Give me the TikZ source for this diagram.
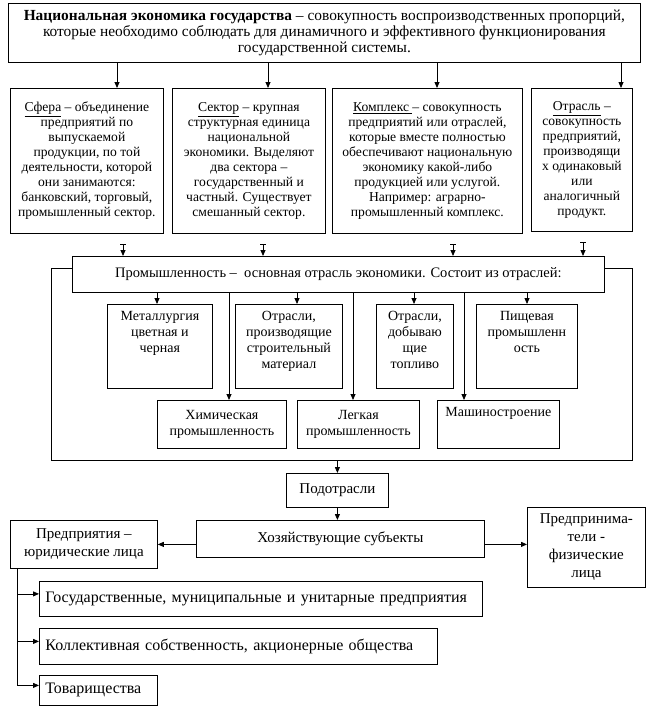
\documentclass[tikz,border=0pt]{standalone}
\usepackage{fontspec}
\setmainfont{Liberation Serif}
\usetikzlibrary{arrows.meta}

\newcommand{\fsm}{\fontsize{13.6}{15}\selectfont}
\newcommand{\fmd}{\fontsize{14}{16}\selectfont}
\newcommand{\fbg}{\fontsize{15}{18}\selectfont}

\tikzset{
  box/.style={draw, line width=0.8pt, inner sep=0pt, anchor=north west, align=center},
  sz/.style 2 args={minimum width=#1, minimum height=#2},
  txt/.style={anchor=north, inner sep=0pt, align=center, yshift=-7pt},
  ln/.style={line width=0.8pt},
  arr/.style={ln, -{Triangle[length=6pt,width=5pt]}},
  tarr/.style={ln, {Bar[width=6pt]}-{Triangle[length=6pt,width=5pt]}, shorten <=10pt},
}

\begin{document}
\begin{tikzpicture}[x=1pt,y=-1pt]
  \useasboundingbox (0,0) rectangle (648,707);

  % Определение
  \node[box, sz={632}{59}, font=\fontsize{15.4}{16}\selectfont] (top) at (8,3)
    {\textbf{Национальная экономика государства} – совокупность воспроизводственных пропорций,\\
     которые необходимо соблюдать для динамичного и эффективного функционирования\\
     государственной системы.};

  % Сфера, сектор, комплекс, отрасль
  \node[box, sz={153}{145}, font=\fsm] (sfera) at (10,88)
    {\underline{Сфера} – объединение\\ предприятий по\\ выпускаемой\\ продукции, по той\\
     деятельности, которой\\ они занимаются:\\ банковский, торговый,\\ промышленный сектор.};
  \node[box, sz={153}{145}, font=\fsm] (sektor) at (172,88)
    {\underline{Сектор} – крупная\\ структурная единица\\ национальной\\ экономики. Выделяют\\
     два сектора –\\ государственный и\\ частный. Существует\\ смешанный сектор.};
  \node[box, sz={190}{145}, font=\fsm] (kompl) at (332,88)
    {\underline{Комплекс\ }– совокупность\\ предприятий или отраслей,\\ которые вместе полностью\\
     обеспечивают национальную\\ экономику какой-либо\\ продукцией или услугой.\\
     Например: аграрно-\\ промышленный комплекс.};
  \node[box, sz={101}{143}, font=\fsm] (otr) at (531,88)
    {\underline{Отрасль} –\\ совокупность\\ предприятий,\\ производящи\\ х одинаковый\\ или\\
     аналогичный\\ продукт.};

  \foreach \n/\x in {sfera/117, sektor/268, kompl/437, otr/621}
    \draw[arr] (\x,0 |- top.south) -- (\x,0 |- \n.north);

  % Промышленность
  \node[box, sz={532}{36}, font=\fontsize{14.5}{16}\selectfont] (prom) at (72,256)
    {Промышленность –\ \ основная отрасль экономики. Состоит из отраслей:};

  \foreach \n/\x in {sfera/123, sektor/263, kompl/453, otr/583}
    \draw[tarr] (\x,0 |- \n.south) -- (\x,0 |- prom.north);

  % Отрасли промышленности
  \node[box, sz={105}{84}] (met) at (107,304) {};
  \node[txt, font=\fmd] (met-t) at (met.north) {Металлургия\\ цветная и\\ черная};
  \node[box, sz={107}{84}] (stroi) at (235,304) {};
  \node[txt, font=\fmd] (stroi-t) at (stroi.north) {Отрасли,\\ производящие\\ строительный\\ материал};
  \node[box, sz={77}{84}] (topl) at (376,304) {};
  \node[txt, font=\fmd] (topl-t) at (topl.north) {Отрасли,\\ добываю\\ щие\\ топливо};
  \node[box, sz={101}{84}] (pish) at (476,304) {};
  \node[txt, font=\fmd] (pish-t) at (pish.north) {Пищевая\\ промышленн\\ ость};

  \node[box, sz={129}{48}, font=\fmd] (him) at (157,400) {Химическая\\ промышленность};
  \node[box, sz={122}{48}, font=\fmd] (legk) at (297,400) {Легкая\\ промышленность};
  \node[box, sz={122}{48}] (mash) at (437,400) {};
  \node[txt, font=\fmd] (mash-t) at (mash.north) {Машиностроение};

  \foreach \n/\x in {met/157, stroi/297, topl/414, pish/527, him/229, legk/353, mash/464}
    \draw[arr] (\x,0 |- prom.south) -- (\x,0 |- \n.north);

  % Рамка
  \coordinate (fl) at (51,460);
  \coordinate (fr) at (632,460);
  \draw[ln] ([yshift=6pt]prom.west) -| (fl) -- (fr) |- ([yshift=6pt]prom.east);

  % Подотрасли и субъекты
  \node[box, sz={102}{34}, font=\fbg] (podotr) at (286,473) {Подотрасли};
  \node[box, sz={288}{37}, font=\fbg] (hoz) at (196,520) {Хозяйствующие субъекты};
  \node[box, sz={147}{48}, font=\fbg] (pred) at (10,520) {Предприятия –\\ юридические лица};
  \node[box, sz={118}{80}, font=\fbg] (fiz) at (527,507) {Предпринима-\\ тели -\\ физические\\ лица};

  \draw[arr] (podotr.north |- fl) -- (podotr.north);
  \draw[arr] (podotr.south) -- (podotr.south |- hoz.north);
  \draw[arr] (hoz.west |- pred.east) -- (pred.east);
  \draw[arr] (hoz.east |- pred.east) -- (fiz.west |- pred.east);

  % Формы предприятий
  \node[box, sz={443}{35}, font=\fontsize{16}{18}\selectfont, align=left, text width=431pt, inner xsep=6pt] (gos) at (39,581)
    {Государственные, муниципальные и унитарные предприятия};
  \node[box, sz={398}{36}, font=\fontsize{16}{18}\selectfont, align=left, text width=386pt, inner xsep=6pt] (koll) at (39,628)
    {Коллективная собственность, акционерные общества};
  \node[box, sz={118}{30}, font=\fontsize{16}{18}\selectfont, align=left, text width=106pt, inner xsep=6pt] (tov) at (39,675)
    {Товарищества};

  \coordinate (br) at (17,0 |- pred.south);
  \foreach \n in {gos, koll, tov} {
    \coordinate (\n-in) at ([yshift=5pt]\n.west);
    \draw[arr] (\n-in -| br) -- (\n-in);
  }
  \draw[ln] (br) -- (tov-in -| br);
\end{tikzpicture}
\end{document}
